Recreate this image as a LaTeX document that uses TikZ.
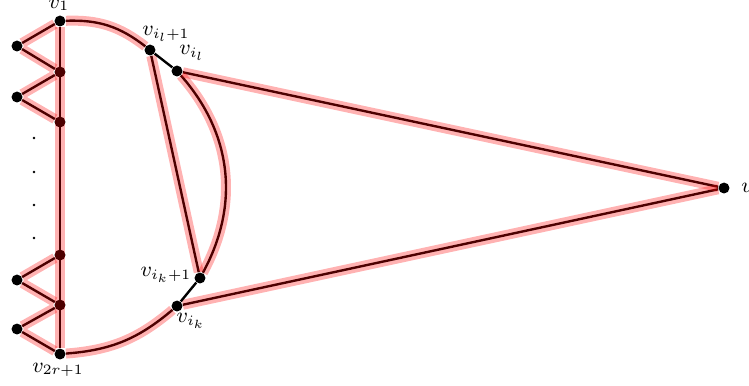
\documentclass[tikz,border=0pt]{standalone}
\usetikzlibrary{positioning}
\tikzset{
  vtx/.style ={circle, fill=black, inner sep=0pt, minimum size=4.6pt},
  ed/.style  ={draw=black, line width=1pt},
  hl/.style  ={draw=red, line width=4.2pt, opacity=.3},
  dt/.style  ={circle, fill=black, inner sep=0pt, minimum size=1.1pt},
  lbl/.style ={font=\fontsize{8.8}{10}\selectfont, inner sep=0pt},
}

\begin{document}
\begin{tikzpicture}[x=0.42pt,y=-0.42pt]
  \useasboundingbox (0,0) rectangle (749,385);
  % vertices
  \node[vtx] (v1) at (60,21) {};
  \node[vtx] (a2) at (60,72) {};
  \node[vtx] (a3) at (60,122) {};
  \node[vtx] (b1) at (60,255) {};
  \node[vtx] (b2) at (60,305) {};
  \node[vtx] (vr) at (60,354) {};
  \node[vtx] (l1) at (17,46) {};
  \node[vtx] (l2) at (17,97) {};
  \node[vtx] (l3) at (17,280) {};
  \node[vtx] (l4) at (17,329) {};
  \node[vtx] (p1) at (150,50) {};
  \node[vtx] (p0) at (177,71) {};
  \node[vtx] (q1) at (200,278) {};
  \node[vtx] (q0) at (177,306) {};
  \node[vtx] (u) at (724,188) {};
  \foreach \y in {138,172,205,238}
    \node[dt] at (34,\y) {};

  % labels
  \node[lbl] (tv1) at (59,5) {$v_1$};
  \node[lbl] (tvr) at (58,370) {$v_{2r+1}$};
  \node[lbl] (tp1) at (166,34) {$v_{i_l+1}$};
  \node[lbl] (tp0) at (192,53) {$v_{i_l}$};
  \node[lbl] (tq1) at (166,275) {$v_{i_k+1}$};
  \node[lbl] (tq0) at (191,321) {$v_{i_k}$};
  \node[lbl,anchor=west] (tu) at (741,188) {$u$};

  % edges
  \foreach \s in {ed,hl}{
    \draw[\s] (v1) -- (l1) -- (a2) -- (l2) -- (a3);
    \draw[\s] (b1) -- (l3) -- (b2) -- (l4) -- (vr);
    \draw[\s] (v1) -- (vr);
    \draw[\s] (v1) to[bend left=20] (p1);
    \draw[\s] (p1) -- (q1);
    \draw[\s] (p0) to[bend left=35] (q1);
    \draw[\s] (p0) -- (u);
    \draw[\s] (q0) -- (u);
    \draw[\s] (q0) to[bend left=18] (vr);
  }
  \draw[ed] (p1) -- (p0);
  \draw[ed] (q1) -- (q0);
\end{tikzpicture}
\end{document}
